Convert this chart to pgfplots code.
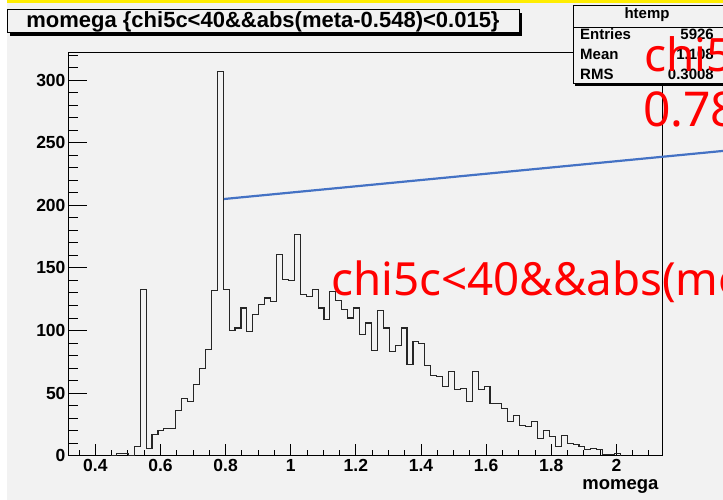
\documentclass[border=0pt]{standalone}
\usepackage{pgfplots}
\pgfplotsset{compat=1.18}
\usepackage{fontspec}
\setmainfont{Liberation Sans}
\newfontfamily\redfont{Noto Sans}
\definecolor{bg}{RGB}{242,242,242}
\definecolor{lblue}{RGB}{68,114,196}
\pgfplotstableread{
x y
0.4465 0
0.4647 2
0.4829 2
0.5011 0
0.5193 7
0.5375 133
0.5557 6
0.5739 17
0.5922 20
0.6104 22
0.6286 22
0.6468 36
0.6650 46
0.6832 43
0.7014 57
0.7196 70
0.7378 85
0.7560 132
0.7743 307
0.7925 133
0.8107 100
0.8289 102
0.8471 118
0.8653 99
0.8835 113
0.9017 121
0.9199 126
0.9381 123
0.9564 161
0.9746 141
0.9928 140
1.0110 177
1.0292 129
1.0474 127
1.0656 133
1.0838 118
1.1020 109
1.1202 131
1.1385 124
1.1567 117
1.1749 110
1.1931 118
1.2113 97
1.2295 106
1.2477 84
1.2659 116
1.2841 102
1.3023 83
1.3206 88
1.3388 102
1.3570 73
1.3752 91
1.3934 90
1.4116 72
1.4298 64
1.4480 63
1.4662 55
1.4844 67
1.5027 53
1.5209 54
1.5391 43
1.5573 67
1.5755 53
1.5937 55
1.6119 42
1.6301 42
1.6483 38
1.6665 27
1.6848 32
1.7030 24
1.7212 23
1.7394 27
1.7576 14
1.7758 20
1.7940 15
1.8122 7
1.8304 16
1.8486 10
1.8669 9
1.8851 7
1.9033 5
1.9215 6
1.9397 5
1.9579 1
1.9761 1
1.9943 2
2.0125 0
}\histdata
\begin{document}
\begin{tikzpicture}
\useasboundingbox (0pt,0pt) rectangle (723pt,-500pt);
\begin{scope}
\clip (0pt,0pt) rectangle (723pt,-500pt);
\fill[white] (0pt,0pt) rectangle (723pt,-500pt);
\fill[bg] (7pt,-3pt) rectangle (723pt,-500pt);
\fill[yellow!95!orange] (7pt,0pt) rectangle (723pt,-3pt);
\begin{axis}[
  at={(69pt,-455.7pt)}, anchor=south west, scale only axis,
  width=593pt, height=403pt,
  xmin=0.319, xmax=2.140, ymin=0, ymax=322,
  clip=false,
  axis line style={line width=1pt},
  tick align=inside, xtick pos=lower, ytick pos=left,
  xtick={0.4,0.6,0.8,1,1.2,1.4,1.6,1.8,2},
  minor xtick={0.35,0.45,0.5,0.55,0.65,0.7,0.75,0.85,0.9,0.95,1.05,1.1,1.15,1.25,1.3,1.35,1.45,1.5,1.55,1.65,1.7,1.75,1.85,1.9,1.95,2.05,2.1},
  ytick={0,50,100,150,200,250,300},
  minor ytick={10,20,30,40,60,70,80,90,110,120,130,140,160,170,180,190,210,220,230,240,260,270,280,290,310,320},
  tick style={black, line width=1pt},
  xtick style={/pgfplots/major tick length=12pt,/pgfplots/minor tick length=6pt},
  ytick style={/pgfplots/major tick length=18pt,/pgfplots/minor tick length=9pt},
  ticklabel style={font=\fontsize{17.5}{17.5}\selectfont\bfseries},
  /pgf/number format/assume math mode=true,
  xlabel={momega},
  xlabel style={at={(axis description cs:1,0)}, anchor=north east, yshift=-20pt, font=\fontsize{18.5}{18.5}\selectfont\bfseries},
]
\addplot[const plot mark left, black!85, line width=1.1pt, no markers] table[x=x,y=y] {\histdata};
\addplot[lblue, line width=2.2pt, no markers] coordinates {(0.795,205.1) (2.327,243.5)};
\end{axis}
% title box
\fill[black] (10pt,-13pt) rectangle (522pt,-36pt);
\filldraw[fill=bg, draw=black, line width=1pt] (7pt,-10pt) rectangle (519pt,-33pt);
\node[anchor=base, inner sep=0pt, font=\fontsize{22}{22}\selectfont\bfseries] at (263pt,-28pt) {momega \{chi5c<40\&\&abs(meta-0.548)<0.015\}};
% stats box
\fill[black] (575pt,-9pt) rectangle (727pt,-86pt);
\filldraw[fill=bg, draw=black, line width=1pt] (573pt,-6pt) rectangle (725pt,-84pt);
\draw[line width=0.8pt] (573pt,-27pt) -- (725pt,-27pt);
\begin{scope}[every node/.style={inner sep=0pt, font=\fontsize{15}{15}\selectfont\bfseries}]
\node[anchor=base] at (647pt,-19pt) {htemp};
\node[anchor=base west] at (580pt,-40pt) {Entries};
\node[anchor=base east] at (714pt,-40pt) {5926};
\node[anchor=base west] at (580pt,-60pt) {Mean};
\node[anchor=base east] at (714pt,-60pt) {1.108};
\node[anchor=base west] at (580pt,-80pt) {RMS};
\node[anchor=base east] at (714pt,-80pt) {0.3008};
\end{scope}
% red annotations
\node[anchor=base west, inner sep=0pt, text=red, font=\redfont\fontsize{45.7}{45.7}\selectfont] at (331pt,-295pt) {chi5c<40\&\&abs(meta-0.548)<0.015};
\node[anchor=base west, inner sep=0pt, text=red, font=\redfont\fontsize{46}{46}\selectfont] at (644pt,-72pt) {chi5c<40};
\node[anchor=base west, inner sep=0pt, text=red, font=\redfont\fontsize{48}{48}\selectfont] at (643pt,-127pt) {0.782};
\end{scope}
\end{tikzpicture}
\end{document}
